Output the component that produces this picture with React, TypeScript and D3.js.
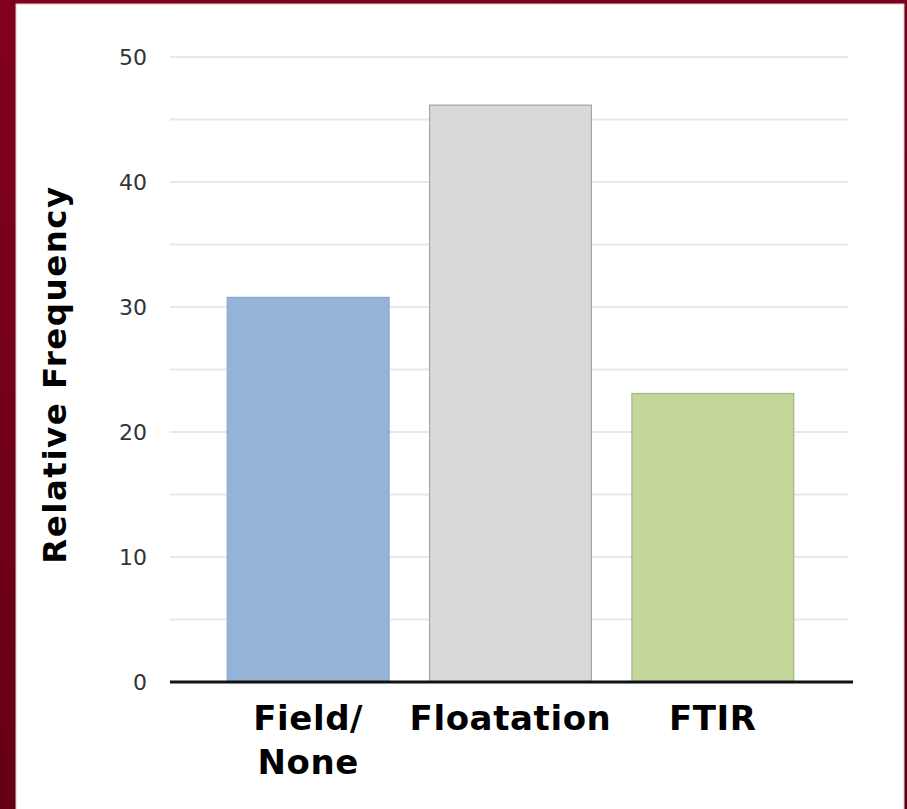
import React from "react";
import * as d3 from "d3";

const categories: string[][] = [["Field/", "None"], ["Floatation"], ["FTIR"]];
const frequencies: number[] = [30.77, 46.15, 23.08];
const barFills: string[] = ["#95b3d7", "#d9d9d9", "#c4d79b"];
const barStrokes: string[] = ["#8aa6c8", "#a6a6a6", "#a3b580"];
const yTicks: number[] = [0, 10, 20, 30, 40, 50];
const gridValues: number[] = [5, 10, 15, 20, 25, 30, 35, 40, 45, 50];
const yTitle = "Relative Frequency";

const W = 907;
const H = 809;

export default function App() {
  const y = d3.scaleLinear().domain([0, 50]).range([682, 57]);
  const x = d3
    .scaleBand<number>()
    .domain(categories.map((_, i) => i))
    .range([207, 814])
    .paddingInner(0.2)
    .paddingOuter(0.1);

  const font = "'DejaVu Sans', Verdana, sans-serif";

  return (
    <svg
      width={W}
      height={H}
      style={{ position: "absolute", left: 0, top: 0, display: "block" }}
    >
      <defs>
        <linearGradient id="frame" x1="0" y1="0" x2="0.3" y2="1">
          <stop offset="0%" stopColor="#82001f" />
          <stop offset="100%" stopColor="#620015" />
        </linearGradient>
      </defs>
      <rect x={0} y={0} width={W} height={H} fill="url(#frame)" />
      <rect x={16} y={4} width={888} height={H} fill="#ffffff" stroke="#d8d0d2" strokeWidth={1} />

      {/* horizontal grid */}
      {gridValues.map((v) => (
        <line
          key={v}
          x1={170}
          x2={848}
          y1={y(v)}
          y2={y(v)}
          stroke="#e8e8e8"
          strokeWidth={2}
        />
      ))}

      {/* bars */}
      {frequencies.map((v, i) => (
        <rect
          key={i}
          x={x(i)!}
          y={y(v)}
          width={x.bandwidth()}
          height={y(0) - y(v)}
          fill={barFills[i]}
          stroke={barStrokes[i]}
          strokeWidth={1.2}
        />
      ))}

      {/* baseline */}
      <line x1={170} x2={853} y1={y(0)} y2={y(0)} stroke="#111" strokeWidth={3} />

      {/* y tick labels */}
      {yTicks.map((t) => (
        <text
          key={t}
          x={147}
          y={y(t)}
          dy="0.36em"
          textAnchor="end"
          fontFamily={font}
          fontSize={22}
          fill="#333"
        >
          {t}
        </text>
      ))}

      {/* category labels */}
      {categories.map((lines, i) => (
        <text
          key={i}
          x={x(i)! + x.bandwidth() / 2}
          y={730}
          textAnchor="middle"
          fontFamily={font}
          fontSize={34}
          fontWeight="bold"
          letterSpacing={0.6}
          fill="#000"
        >
          {lines.map((l, j) => (
            <tspan key={j} x={x(i)! + x.bandwidth() / 2} dy={j === 0 ? 0 : 44}>
              {l}
            </tspan>
          ))}
        </text>
      ))}

      {/* y axis title */}
      <text
        transform={`translate(66, ${(182 + 567) / 2}) rotate(-90)`}
        textAnchor="middle"
        fontFamily={font}
        fontSize={32.5}
        fontWeight="bold"
        letterSpacing={1.5}
        fill="#000"
      >
        {yTitle}
      </text>
    </svg>
  );
}
